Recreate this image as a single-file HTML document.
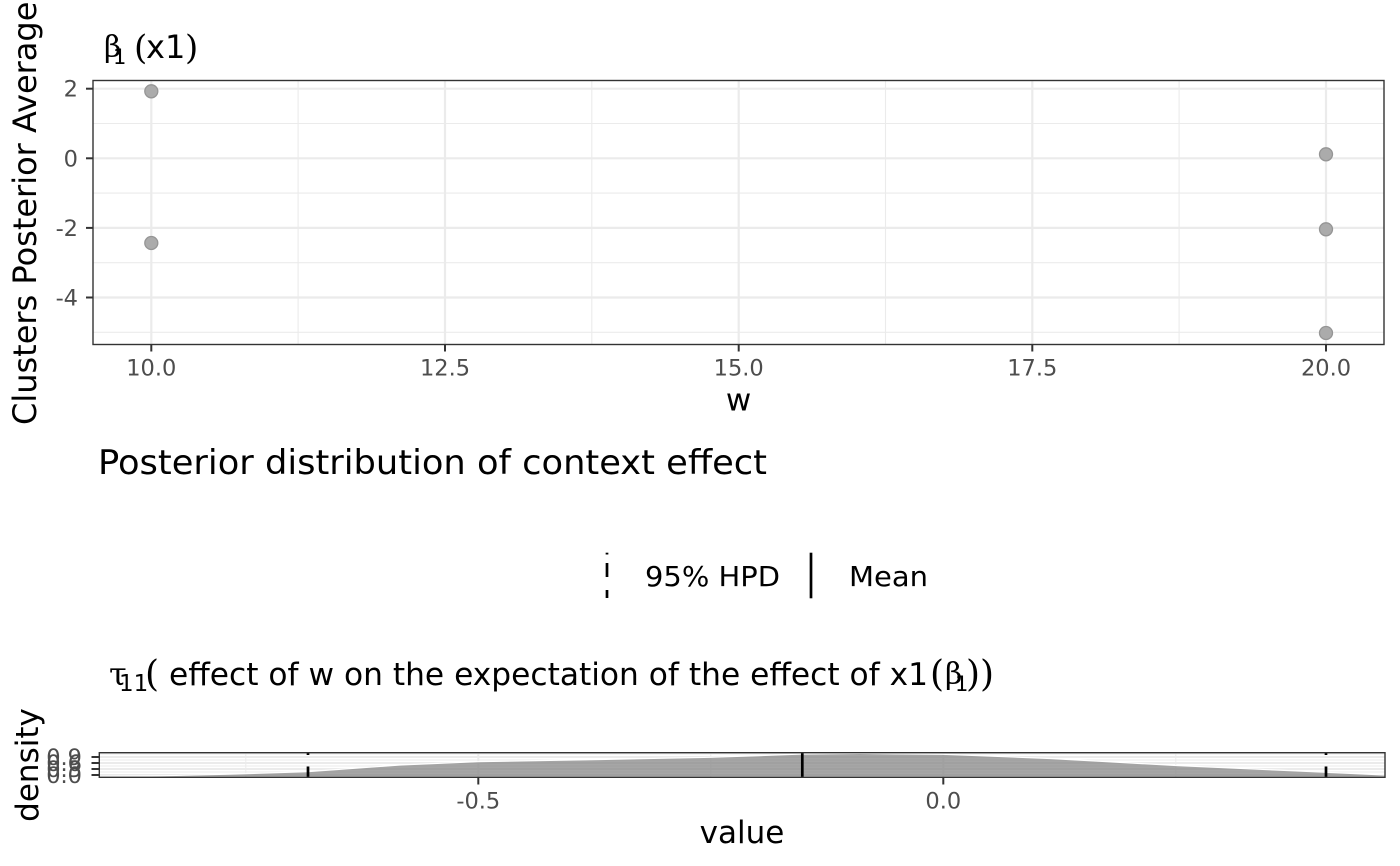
<!DOCTYPE html>
<html><head><meta charset="utf-8"><style>
html,body{margin:0;padding:0;background:#fff;}
svg{display:block;}
text{font-family:"DejaVu Sans","Liberation Sans",sans-serif;}
.serif{font-family:"DejaVu Serif","Liberation Serif",serif;}
.tick{font-size:22.5px;fill:#4d4d4d;}
</style></head><body>
<svg width="1400" height="866" viewBox="0 0 1400 866" xmlns="http://www.w3.org/2000/svg">
<rect width="1400" height="866" fill="#fff"/>

<!-- ===== TOP PANEL ===== -->
<text class="serif" x="104" y="57" font-size="30">β</text>
<text x="113" y="64" font-size="21">1</text>
<text class="serif" x="134" y="59" font-size="34">(</text>
<text x="146" y="58" font-size="32">x1</text>
<text class="serif" x="185" y="59" font-size="34">)</text>

<g stroke="#ebebeb" fill="none">
  <g stroke-width="1.1">
    <line x1="93" x2="1384" y1="123.5" y2="123.5"/>
    <line x1="93" x2="1384" y1="193.1" y2="193.1"/>
    <line x1="93" x2="1384" y1="262.7" y2="262.7"/>
    <line x1="93" x2="1384" y1="332.3" y2="332.3"/>
    <line y1="80.5" y2="344.5" x1="298.1" x2="298.1"/>
    <line y1="80.5" y2="344.5" x1="591.8" x2="591.8"/>
    <line y1="80.5" y2="344.5" x1="885.5" x2="885.5"/>
    <line y1="80.5" y2="344.5" x1="1179.1" x2="1179.1"/>
  </g>
  <g stroke-width="2.2">
    <line x1="93" x2="1384" y1="88.7" y2="88.7"/>
    <line x1="93" x2="1384" y1="158.3" y2="158.3"/>
    <line x1="93" x2="1384" y1="227.9" y2="227.9"/>
    <line x1="93" x2="1384" y1="297.5" y2="297.5"/>
    <line y1="80.5" y2="344.5" x1="151.3" x2="151.3"/>
    <line y1="80.5" y2="344.5" x1="445" x2="445"/>
    <line y1="80.5" y2="344.5" x1="738.7" x2="738.7"/>
    <line y1="80.5" y2="344.5" x1="1032.3" x2="1032.3"/>
    <line y1="80.5" y2="344.5" x1="1326" x2="1326"/>
  </g>
</g>

<g fill="#ababab" stroke="#959595" stroke-width="1.3">
  <circle cx="151.3" cy="91.3" r="6.5"/>
  <circle cx="151.3" cy="243" r="6.5"/>
  <circle cx="1326" cy="154.3" r="6.5"/>
  <circle cx="1326" cy="229.3" r="6.5"/>
  <circle cx="1326" cy="333" r="6.5"/>
</g>

<rect x="93" y="80.5" width="1291" height="264" fill="none" stroke="#333" stroke-width="1.4"/>

<g stroke="#333" stroke-width="2">
  <line x1="86" x2="93" y1="88.7" y2="88.7"/>
  <line x1="86" x2="93" y1="158.3" y2="158.3"/>
  <line x1="86" x2="93" y1="227.9" y2="227.9"/>
  <line x1="86" x2="93" y1="297.5" y2="297.5"/>
  <line y1="344.5" y2="351.5" x1="151.3" x2="151.3"/>
  <line y1="344.5" y2="351.5" x1="445" x2="445"/>
  <line y1="344.5" y2="351.5" x1="738.7" x2="738.7"/>
  <line y1="344.5" y2="351.5" x1="1032.3" x2="1032.3"/>
  <line y1="344.5" y2="351.5" x1="1326" x2="1326"/>
</g>
<g class="tick" text-anchor="end">
  <text x="78" y="96.7">2</text>
  <text x="78" y="166.3">0</text>
  <text x="78" y="235.9">-2</text>
  <text x="78" y="305.5">-4</text>
</g>
<g class="tick" text-anchor="middle">
  <text x="151.3" y="375.7">10.0</text>
  <text x="445" y="375.7">12.5</text>
  <text x="738.7" y="375.7">15.0</text>
  <text x="1032.3" y="375.7">17.5</text>
  <text x="1326" y="375.7">20.0</text>
</g>
<text x="738.5" y="410.7" font-size="31" text-anchor="middle">w</text>
<text transform="translate(36,425) rotate(-90)" font-size="32">Clusters Posterior Average</text>

<!-- ===== MIDDLE TITLE & LEGEND ===== -->
<text x="98" y="474" font-size="34" textLength="669" lengthAdjust="spacingAndGlyphs">Posterior distribution of context effect</text>

<g stroke="#000" stroke-width="2.7">
  <line x1="607" x2="607" y1="552.7" y2="554.5"/>
  <line x1="607" x2="607" y1="563" y2="577"/>
  <line x1="607" x2="607" y1="590" y2="598"/>
  <line x1="811" x2="811" y1="552.7" y2="598.3"/>
</g>
<text x="645" y="586" font-size="28" textLength="135" lengthAdjust="spacingAndGlyphs">95% HPD</text>
<text x="849" y="586" font-size="28" textLength="79" lengthAdjust="spacingAndGlyphs">Mean</text>

<!-- ===== BOTTOM PANEL ===== -->
<text class="serif" x="109" y="685" font-size="32">τ</text>
<text x="119" y="691" font-size="23">11</text>
<text class="serif" x="145" y="686" font-size="36">(</text>
<text x="169" y="685" font-size="31" textLength="759" lengthAdjust="spacingAndGlyphs">effect of w on the expectation of the effect of x1</text>
<text class="serif" x="930" y="686" font-size="36">(</text>
<text class="serif" x="945" y="684" font-size="30">β</text>
<text x="955" y="691" font-size="21">1</text>
<text class="serif" x="966" y="686" font-size="36">))</text>

<g stroke="#ebebeb" fill="none">
  <g stroke-width="1">
    <line x1="99.3" x2="1385" y1="754" y2="754"/>
    <line x1="99.3" x2="1385" y1="760" y2="760"/>
    <line x1="99.3" x2="1385" y1="766" y2="766"/>
    <line x1="99.3" x2="1385" y1="772" y2="772"/>
    <line y1="752.7" y2="777.3" x1="245.8" x2="245.8"/>
    <line y1="752.7" y2="777.3" x1="710.8" x2="710.8"/>
    <line y1="752.7" y2="777.3" x1="1175.8" x2="1175.8"/>
  </g>
  <g stroke-width="2">
    <line x1="99.3" x2="1385" y1="757" y2="757"/>
    <line x1="99.3" x2="1385" y1="763" y2="763"/>
    <line x1="99.3" x2="1385" y1="769" y2="769"/>
    <line x1="99.3" x2="1385" y1="775" y2="775"/>
    <line y1="752.7" y2="777.3" x1="478.3" x2="478.3"/>
    <line y1="752.7" y2="777.3" x1="943.3" x2="943.3"/>
  </g>
</g>

<path d="M99.3,776.4 L160,775.8 L230,774.2 L308,771.6 L400,765 L478,761.7 L600,759.5 L710,757.3 L760,755.6 L802,754 L860,753.4 L943,754.3 L1050,758.5 L1176,765.5 L1326,772.3 L1385,775 L1385,776.4 Z" fill="#808080" fill-opacity="0.7"/>
<path d="M99.3,776.4 L160,775.8 L230,774.2 L308,771.6 L400,765 L478,761.7 L600,759.5 L710,757.3 L760,755.6 L802,754 L860,753.4 L943,754.3 L1050,758.5 L1176,765.5 L1326,772.3 L1385,775" fill="none" stroke="#fff" stroke-width="1.2"/>

<g stroke="#000" stroke-width="2.7">
  <line x1="308" x2="308" y1="753" y2="755"/>
  <line x1="308" x2="308" y1="766.5" y2="777.3"/>
  <line x1="1326" x2="1326" y1="753" y2="755"/>
  <line x1="1326" x2="1326" y1="766.5" y2="777.3"/>
  <line x1="802.3" x2="802.3" y1="752.7" y2="777.3"/>
</g>

<rect x="99.3" y="752.7" width="1285.7" height="24.6" fill="none" stroke="#333" stroke-width="1.4"/>

<g stroke="#333" stroke-width="2">
  <line x1="91.5" x2="99.3" y1="757" y2="757"/>
  <line x1="91.5" x2="99.3" y1="763" y2="763"/>
  <line x1="91.5" x2="99.3" y1="769" y2="769"/>
  <line x1="91.5" x2="99.3" y1="775" y2="775"/>
  <line y1="777.3" y2="784.5" x1="478.3" x2="478.3"/>
  <line y1="777.3" y2="784.5" x1="943.3" x2="943.3"/>
</g>
<g class="tick" text-anchor="end">
  <text x="82" y="765">0.9</text>
  <text x="82" y="771">0.6</text>
  <text x="82" y="777">0.3</text>
  <text x="82" y="783">0.0</text>
</g>
<g class="tick" text-anchor="middle">
  <text x="478.3" y="808.5">-0.5</text>
  <text x="943.3" y="808.5">0.0</text>
</g>
<text x="742" y="843" font-size="31" text-anchor="middle">value</text>
<text transform="translate(38,765) rotate(-90)" font-size="31" text-anchor="middle">density</text>
</svg>
</body></html>
